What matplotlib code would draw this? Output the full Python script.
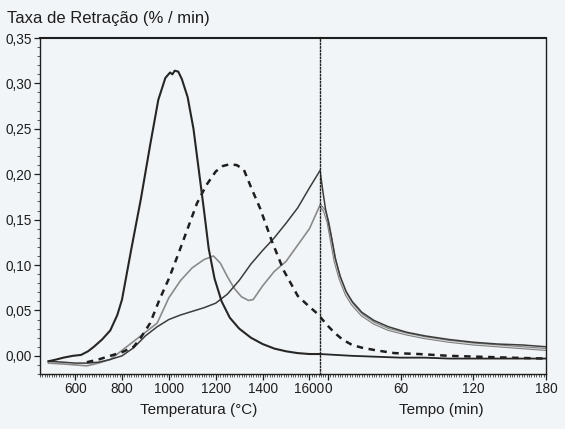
import numpy as np
import matplotlib.pyplot as plt
from matplotlib.ticker import MultipleLocator, FuncFormatter

plt.rcParams['font.family'] = ['Liberation Sans', 'DejaVu Sans']

# temperature ramp part (degC)
T1 = [486, 520, 550, 590, 625, 655, 680, 715, 750, 780, 800, 840, 880, 920, 955, 985, 1005, 1015,
      1025, 1040, 1055, 1080, 1105, 1130, 1150, 1170, 1195, 1225, 1260, 1300, 1350, 1400, 1450,
      1500, 1550, 1600, 1645]
v1 = [-0.006, -0.004, -0.002, 0.000, 0.001, 0.005, 0.010, 0.018, 0.028, 0.045, 0.062, 0.118,
      0.172, 0.232, 0.282, 0.306, 0.312, 0.310, 0.314, 0.313, 0.305, 0.285, 0.250, 0.200, 0.160,
      0.118, 0.085, 0.060, 0.042, 0.030, 0.020, 0.013, 0.008, 0.005, 0.003, 0.002, 0.002]

T2 = [650, 700, 750, 800, 850, 880, 920, 960, 1000, 1040, 1080, 1120, 1160, 1200, 1230, 1260,
      1290, 1320, 1350, 1390, 1440, 1490, 1550, 1600, 1645]
v2 = [-0.007, -0.004, 0.000, 0.004, 0.010, 0.020, 0.036, 0.062, 0.085, 0.112, 0.140, 0.168, 0.188,
      0.203, 0.209, 0.211, 0.210, 0.205, 0.186, 0.162, 0.126, 0.094, 0.066, 0.054, 0.044]

T3 = [486, 550, 600, 650, 700, 750, 800, 850, 900, 950, 1000, 1050, 1100, 1150, 1200, 1250, 1300,
      1350, 1400, 1450, 1500, 1550, 1600, 1645]
v3 = [-0.006, -0.007, -0.008, -0.008, -0.007, -0.004, 0.000, 0.009, 0.022, 0.032, 0.040, 0.045,
      0.049, 0.053, 0.058, 0.068, 0.083, 0.101, 0.116, 0.130, 0.146, 0.163, 0.185, 0.204]

T4 = [486, 550, 600, 650, 700, 750, 800, 850, 900, 950, 1000, 1050, 1100, 1150, 1190, 1220, 1250,
      1280, 1310, 1340, 1360, 1400, 1450, 1500, 1550, 1600, 1645]
v4 = [-0.008, -0.009, -0.010, -0.011, -0.008, -0.004, 0.006, 0.016, 0.026, 0.036, 0.064, 0.083,
      0.097, 0.106, 0.110, 0.102, 0.087, 0.074, 0.065, 0.061, 0.062, 0.077, 0.093, 0.104, 0.122,
      0.140, 0.166]

# isothermal part (min)
t1 = [-6.5, 20, 40, 60, 80, 100, 120, 140, 160, 180]
w1 = [0.002, 0.000, -0.001, -0.002, -0.002, -0.003, -0.003, -0.003, -0.003, -0.003]

t2 = [-6.5, 0, 5, 12, 20, 28, 40, 55, 75, 100, 125, 150, 180]
w2 = [0.043, 0.033, 0.026, 0.018, 0.012, 0.009, 0.006, 0.003, 0.002, 0.000, -0.001, -0.002, -0.003]

t3 = [-6.5, -4, -2, 0, 3, 6, 10, 15, 20, 28, 38, 50, 65, 80, 100, 120, 140, 160, 180]
w3 = [0.204, 0.180, 0.162, 0.150, 0.130, 0.108, 0.088, 0.071, 0.060, 0.048, 0.039, 0.032, 0.026,
      0.022, 0.018, 0.015, 0.013, 0.012, 0.010]

t4 = [-6.5, -3, 0, 3, 6, 10, 15, 20, 28, 38, 50, 65, 80, 100, 120, 140, 160, 180]
w4 = [0.166, 0.160, 0.148, 0.126, 0.104, 0.085, 0.068, 0.057, 0.045, 0.036, 0.029, 0.024, 0.020,
      0.016, 0.013, 0.011, 0.009, 0.007]

BG = "#f2f5f7"
INK = "#1e1e1e"

fig = plt.figure(figsize=(5.65, 4.29), dpi=100, facecolor=BG)
W, H = 565, 429
axT = fig.add_axes([40 / W, 1 - 374 / H, 280 / W, 336 / H], facecolor=BG)
axt = fig.add_axes([320 / W, 1 - 374 / H, 226 / W, 336 / H], facecolor=BG, sharey=axT)

dash = (0, (2.6, 2.2))


def gray_double(ax, x, y):
    ax.plot(x, y, color="#7d7d7d", lw=2.2, solid_capstyle="round")
    ax.plot(x, y, color="#d9dcdd", lw=0.7)


# temperature side
axT.plot(T4, v4, color="#8a8a8a", lw=1.2)
axT.plot(T3, v3, color="#3c3c3c", lw=1.1)
axT.plot(T2, v2, color=INK, lw=1.8, linestyle=dash)
axT.plot(T1, v1, color="#262626", lw=1.5)

# time side
gray_double(axt, t4, w4)
axt.plot(t3, w3, color="#3c3c3c", lw=1.1)
axt.plot(t2, w2, color=INK, lw=1.8, linestyle=dash)
axt.plot(t1, w1, color="#262626", lw=1.3)

axT.set_xlim(450, 1645)
axt.set_xlim(-6.5, 180)
axT.set_ylim(-0.020, 0.35)

axT.set_xticks([600, 800, 1000, 1200, 1400, 1600])
axT.xaxis.set_minor_locator(MultipleLocator(10))
axT.yaxis.set_major_locator(MultipleLocator(0.05))
axT.yaxis.set_minor_locator(MultipleLocator(0.01))
axT.yaxis.set_major_formatter(FuncFormatter(lambda v, p: f"{v:.2f}".replace(".", ",")))

axt.set_xticks([0, 60, 120, 180])
axt.xaxis.set_minor_locator(MultipleLocator(2))

for ax in (axT, axt):
    ax.tick_params(which="major", direction="out", length=4, width=0.9, labelsize=9.8,
                   pad=2, colors=INK)
    ax.tick_params(which="minor", direction="out", length=2, width=0.5, colors=INK)
    for s in ax.spines.values():
        s.set_color(INK)
        s.set_linewidth(1.0)
    ax.spines["top"].set_linewidth(1.5)

axT.spines["right"].set_visible(False)
axt.spines["left"].set_linestyle((0, (1, 1.5)))
axt.tick_params(axis="y", which="both", left=False, labelleft=False)

fig.text(7 / W, 1 - 18 / H, "Taxa de Retração (% / min)", ha="left", va="center",
         fontsize=12, color=INK)
fig.text(199 / W, 1 - 410 / H, "Temperatura (°C)", ha="center", va="center",
         fontsize=11, color=INK)
fig.text(441 / W, 1 - 410 / H, "Tempo (min)", ha="center", va="center",
         fontsize=11, color=INK)

fig.savefig("out.png", dpi=100, facecolor=BG)
